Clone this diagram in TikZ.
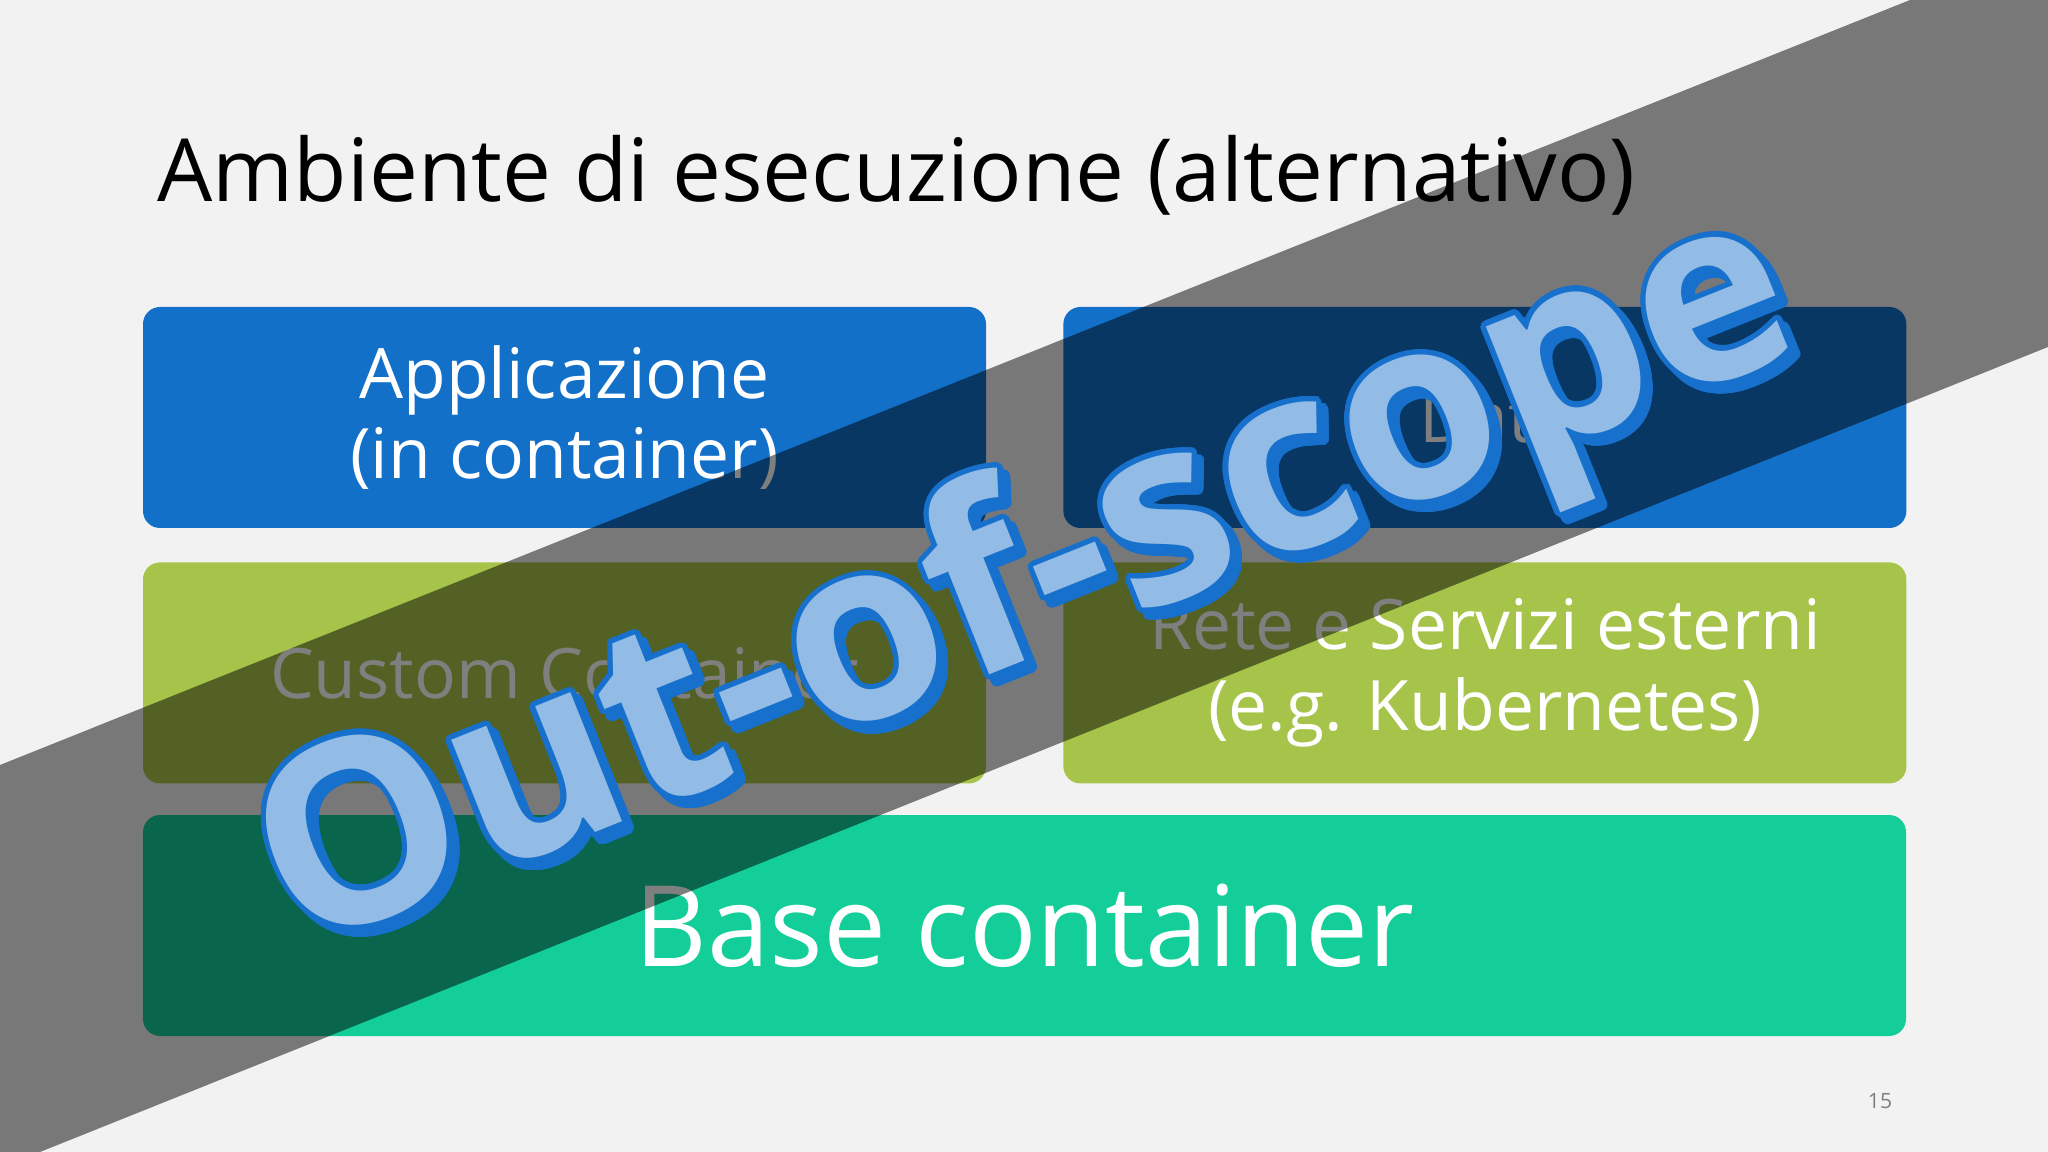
\documentclass[tikz,border=0pt]{standalone}
\usepackage{fontspec}
\setmainfont{Open Sans}
\usepackage{contour}
\usetikzlibrary{positioning}

\definecolor{slidebg}{RGB}{242,242,242}
\definecolor{appblue}{RGB}{19,112,201}
\definecolor{leafgreen}{RGB}{167,196,74}
\definecolor{basegreen}{RGB}{20,206,154}
\definecolor{oosblue}{RGB}{22,112,204}
\definecolor{oosfill}{RGB}{146,188,230}
\definecolor{pagegray}{RGB}{127,127,127}

\contourlength{1.5pt}
\contournumber{32}

\begin{document}
\begin{tikzpicture}[
    tile/.style={rounded corners=1.7mm, minimum width=8.43cm, minimum height=2.21cm,
      inner sep=0pt, text=white, align=center, font=\fontsize{19.8}{23}\selectfont},
    oostext/.style={rotate=21.8, font=\fontsize{72.5}{76}\selectfont\bfseries}
  ]
    \fill[slidebg] (0,0) rectangle (20.48,-11.52);
    \useasboundingbox (0,0) rectangle (20.48,-11.52);

    \node[anchor=base west, inner sep=0pt, font=\fontsize{24.8}{30}\selectfont] (title) at (1.57,-2.02)
      {Ambiente di esecuzione (alternativo)};

    % upper row
    \node[tile, fill=appblue] (app) at (5.645,-4.175) {Applicazione\\(in container)};
    \node[tile, fill=appblue, right=0.76cm of app] (data) {Dati};
    % middle row
    \node[tile, fill=leafgreen, below=0.33cm of app] (custom) {Custom Container};
    \node[tile, fill=leafgreen, below=0.33cm of data] (net) {Rete e Servizi esterni\\(e.g. Kubernetes)};
    % bottom row
    \node[tile, fill=basegreen, minimum width=17.63cm, font=\fontsize{32}{36}\selectfont]
      (base) at (10.245,-9.255) {Base container};

    \node[text=pagegray, font=\fontsize{6}{7}\selectfont] (page) at (18.80,-11.01) {15};

    % band
    \fill[black, opacity=0.5] (0,-7.65) -- (19.10,0) -- (20.48,0) -- (20.48,-3.47)
      -- (0.40,-11.52) -- (0,-11.52) -- cycle;

    \node[oostext, text=oosblue] (oosshadow) at (10.36,-5.97) {\contour{oosblue}{Out-of-scope}};
    \node[oostext, text=oosfill] (oos) at (10.29,-5.90) {\contour{oosblue}{Out-of-scope}};
  \end{tikzpicture}
\end{document}
